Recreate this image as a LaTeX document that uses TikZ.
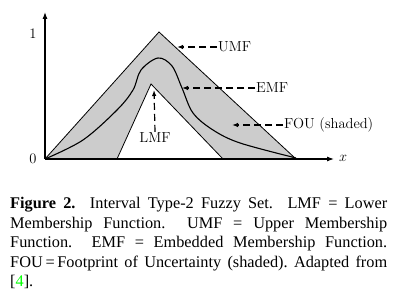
\documentclass[tikz,border=0pt]{standalone}
\usepackage{fontspec}
\newfontfamily\capfont{Liberation Serif}
\usetikzlibrary{arrows.meta}

\begin{document}
\begin{tikzpicture}[
    x=1pt, y=1pt,
    axis/.style={-{Latex[length=7pt,width=5pt]}, line width=1.1pt},
    mf/.style={draw, line width=0.8pt},
    pointer/.style={-{Latex[length=6pt,width=4.5pt]}, line width=1.2pt, dash pattern=on 7pt off 4pt},
    mflabel/.style={font=\fontsize{14.5}{17}\selectfont, inner sep=1pt}
]
\useasboundingbox (0,0) rectangle (398,304);

% Footprint of uncertainty
\fill[gray!40] (45,145) -- (159,272) -- (296,145) -- cycle;
\fill[white] (117,145) -- (151,220) -- (223,145) -- cycle;

% Upper and lower membership functions
\draw[mf] (45,145) -- (159,272) -- (296,145);
\draw[mf] (117,145) -- (151,220) -- (223,145);

% Embedded membership function
\draw[line width=1.1pt] plot[smooth, tension=0.55] coordinates {
    (45,145) (83,164) (117,194) (133,214) (141,234) (158,246)
    (172,238) (182,216) (193,191) (213,174) (240,161) (296,146)};

% Axes
\node[mflabel] (origin) at (45,145) {};
\draw[axis] (origin.center) -- (45,292);
\draw[axis] (origin.center) -- (334,145);
\node[mflabel] (one) at (33,270) {1};
\node[mflabel] (zero) at (33,145) {0};
\node[mflabel] (xlabel) at (343,146) {$x$};

% Labels
\node[mflabel, anchor=west] (umf) at (217,257) {UMF};
\node[mflabel, anchor=west] (emf) at (255,216) {EMF};
\node[mflabel, anchor=west] (fou) at (283,179) {FOU (shaded)};
\node[mflabel] (lmf) at (155,166) {LMF};
\coordinate (umftip) at (177,257);
\coordinate (emftip) at (182,216);
\coordinate (foutip) at (232,179);
\coordinate (lmftip) at (154,214);

\draw[pointer] (umf.west) -- (umftip);
\draw[pointer] (emf.west) -- (emftip);
\draw[pointer] (fou.west) -- (foutip);
\draw[pointer] (lmf.north) -- (lmftip);

% Caption
\node[anchor=north west, inner sep=0pt, text width=377pt, align=justify,
      font=\capfont\fontsize{16.3}{19.6}\selectfont] (caption) at (10,107) {%
    \textbf{Figure 2.}\ \ Interval Type-2 Fuzzy Set.\ \ LMF = Lower\linebreak
    Membership Function.\ \ UMF = Upper Membership\linebreak
    Function.\ \ EMF = Embedded Membership Function.\linebreak
    FOU\,=\,Footprint of Uncertainty (shaded).\ Adapted from\linebreak
    {[}\textcolor{green}{4}].};

\end{tikzpicture}
\end{document}
